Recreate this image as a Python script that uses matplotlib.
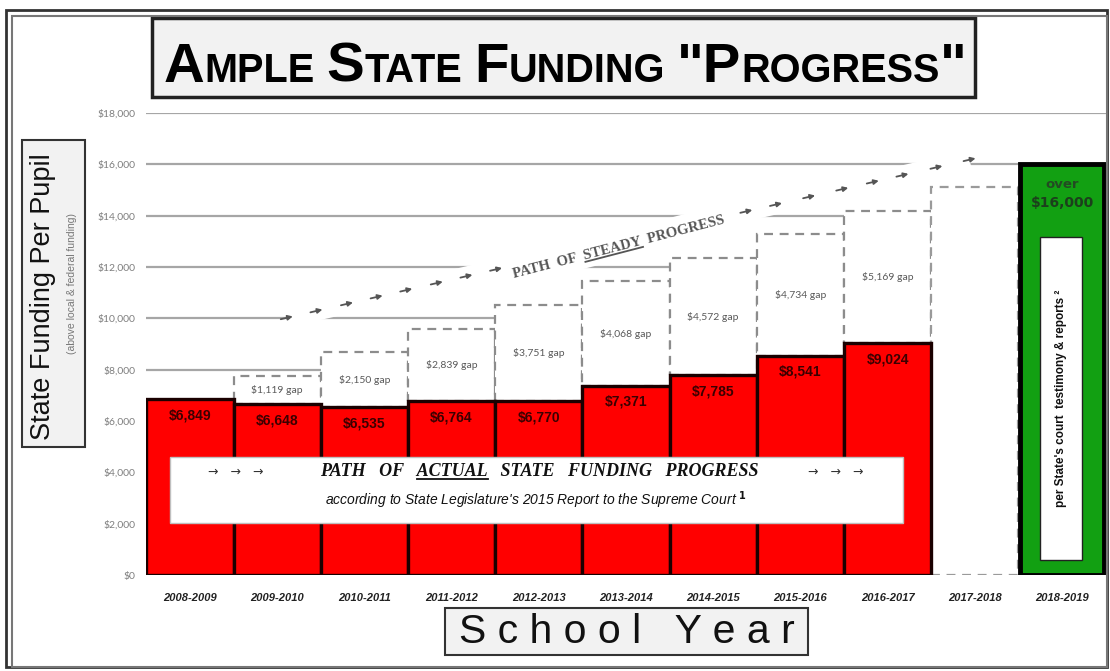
import numpy as np
import matplotlib
matplotlib.use('Agg')
import matplotlib.pyplot as plt
from matplotlib.patches import Rectangle

# data
years = ['2008-2009', '2009-2010', '2010-2011', '2011-2012', '2012-2013', '2013-2014',
         '2014-2015', '2015-2016', '2016-2017', '2017-2018', '2018-2019']
actual = [6849, 6648, 6535, 6764, 6770, 7371, 7785, 8541, 9024]
gaps = [1119, 2150, 2839, 3751, 4068, 4572, 4734, 5169]   # for 2009-10 .. 2016-17
target_1718 = 15111
court_level = 16029   # "over $16,000"

# steady-progress path (start / end of the arrow line)
steady_x = [1.11, 8.94]
steady_y = [10020, 16180]

NARROW = ['Liberation Sans Narrow', 'Liberation Sans', 'DejaVu Sans']

fig = plt.figure(figsize=(11.1, 6.71), dpi=100)
ax = fig.add_axes([146.4 / 1110, 96 / 671, 959.2 / 1110, 462 / 671])
ax.set_xlim(-0.5, 10.5)
ax.set_ylim(0, 18000)
for s in ax.spines.values():
    s.set_visible(False)
ax.set_yticks(np.arange(0, 18001, 2000))
ax.yaxis.set_major_formatter('${x:,.0f}')
ax.tick_params(axis='y', length=0, pad=8, labelsize=7.5, labelcolor='#7f7f7f')
for lab in ax.get_yticklabels():
    lab.set_family(['Lato', 'DejaVu Sans'])
ax.yaxis.grid(True, color='#a6a6a6', lw=1.6)
ax.set_axisbelow(True)

ax.set_xticks(range(len(years)))
ax.set_xticklabels(years, fontsize=8, fontweight='bold', fontstyle='italic',
                   color='#222222', family=NARROW)
ax.tick_params(axis='x', length=0, pad=13)

# white band under the steady path arrows (hides gridlines like the original)
ax.plot(steady_x, steady_y, color='white', lw=14, solid_capstyle='butt', zorder=1.5)

# gap boxes (dashed)
idx_gap = np.arange(1, 9)
ax.bar(idx_gap, gaps, bottom=actual[1:], width=1, facecolor='white', edgecolor='#8c8c8c',
       ls=(0, (4, 3)), lw=1.6, zorder=2)
ax.bar(9, target_1718, width=1, facecolor='white', edgecolor='#9a9a9a',
       ls=(0, (4, 3)), lw=1.6, zorder=2)
for i, g in zip(idx_gap, gaps):
    ax.text(i, actual[i] + g / 2, f'${g:,} gap', ha='center', va='center', fontsize=7.5,
            color='#595959', family=['Lato', 'DejaVu Sans'], zorder=3)

# actual funding bars
ax.bar(range(len(actual)), actual, width=1, color='#ff0000', edgecolor='#1a0000', lw=2.4, zorder=3)
for i, v in enumerate(actual):
    ax.text(i, v - 620, f'${v:,}', ha='center', va='center', fontsize=10, fontweight='bold',
            color='#3a0000', family=NARROW, zorder=4)

# court level bar
ax.bar(10, court_level, width=0.97, color='#12a012', edgecolor='black', lw=3.5, zorder=3)
ax.text(10, 15200, 'over', ha='center', va='center', fontsize=9.5, fontweight='bold',
        color='#234a23', zorder=4)
ax.text(10, 14480, '$16,000', ha='center', va='center', fontsize=10, fontweight='bold',
        color='#1c3f1c', zorder=4)
ax.add_patch(Rectangle((9.75, 585), 0.48, 12590, facecolor='white', edgecolor='#222222',
                       lw=1, zorder=4))
ax.text(9.99, 6880, "per State's court  testimony & reports \u00b2", rotation=90, ha='center',
        va='center', fontsize=8.5, fontweight='bold', color='#111111', family=NARROW, zorder=5)

# actual path box
ax.add_patch(Rectangle((-0.23, 2030), 8.41, 2570, facecolor='white', edgecolor='#bfbfbf',
                       lw=1, zorder=4))

renderer = fig.canvas.get_renderer()


def width_of(s, **kw):
    t = fig.text(0, 0, s, **kw)
    w = t.get_window_extent(renderer).width
    t.remove()
    return w


serif_kw = dict(fontsize=13, fontweight='bold', fontstyle='italic',
                family=['Liberation Serif', 'DejaVu Serif'])
line1 = 'PATH   OF   ACTUAL   STATE   FUNDING   PROGRESS'
ax.text(4.0, 3850, line1, ha='center', va='baseline', color='#111111', zorder=5, **serif_kw)
ax.text(0.52, 3850, '\u2192   \u2192   \u2192', ha='center', va='baseline', fontsize=9,
        color='#333333', zorder=5)
ax.text(7.4, 3850, '\u2192   \u2192   \u2192', ha='center', va='baseline', fontsize=9,
        color='#333333', zorder=5)
# underline ACTUAL
wf = width_of(line1, **serif_kw)
wp = width_of('PATH   OF   ', **serif_kw)
ww = width_of('ACTUAL', **serif_kw)
cx, cy = ax.transData.transform((4.0, 3850))
x0 = cx - wf / 2 + wp
inv = ax.transData.inverted()
p0 = inv.transform((x0, cy - 3))
p1 = inv.transform((x0 + ww, cy - 3))
ax.plot([p0[0], p1[0]], [p0[1], p1[1]], color='#111111', lw=1.3, zorder=5)

ax.text(3.97, 2720, "according to State Legislature's 2015 Report to the Supreme Court $^{\\mathbf{1}}$",
        ha='center', va='baseline', fontsize=10, fontstyle='italic', color='#111111',
        family=NARROW, zorder=5)

# steady progress arrows and text
ang = np.degrees(np.arctan2(*(np.diff(ax.transData.transform(list(zip(steady_x, steady_y))),
                                      axis=0)[0][::-1])))
arrow_pos = [1.11, 1.45, 1.80, 2.14, 2.48, 2.83, 3.17, 3.51,
             6.38, 6.72, 7.10, 7.48, 7.83, 8.17, 8.56, 8.94]
slope = (steady_y[1] - steady_y[0]) / (steady_x[1] - steady_x[0])
for a in arrow_pos:
    y = steady_y[0] + slope * (a - steady_x[0])
    ax.annotate('', xy=(a + 0.1, y + slope * 0.1), xytext=(a - 0.1, y - slope * 0.1),
                arrowprops=dict(arrowstyle='-|>', color='#555555', lw=1.3, mutation_scale=7),
                zorder=3)

steady_kw = dict(fontsize=10.5, fontweight='bold', family=['Liberation Serif', 'DejaVu Serif'])
steady = 'PATH  OF  STEADY  PROGRESS'
sx, sy = 4.93, 12650
ax.text(sx, sy, steady, rotation=ang + 1.5, rotation_mode='anchor', ha='center', va='baseline',
        color='#555555', zorder=3, **steady_kw)
# white band behind the steady text
wf = width_of(steady, **steady_kw)
wp = width_of('PATH  OF  ', **steady_kw)
ww = width_of('STEADY', **steady_kw)
cx, cy = ax.transData.transform((sx, sy))
ra = np.radians(ang + 1.5)
u = np.array([np.cos(ra), np.sin(ra)])
n = np.array([np.sin(ra), -np.cos(ra)])
c = np.array([cx, cy])
b0 = inv.transform(c - u * (wf / 2 + 6) - n * 5)
b1 = inv.transform(c + u * (wf / 2 + 6) - n * 5)
ax.plot([b0[0], b1[0]], [b0[1], b1[1]], color='white', lw=20, solid_capstyle='butt', zorder=1.6)
s0 = inv.transform(c + u * (-wf / 2 + wp) + n * 2.5)
s1 = inv.transform(c + u * (-wf / 2 + wp + ww) + n * 2.5)
ax.plot([s0[0], s1[0]], [s0[1], s1[1]], color='#555555', lw=1.3, zorder=3)

# y label box
fig.patches.append(Rectangle((22 / 1110, 1 - 447 / 671), 63 / 1110, 307 / 671,
                             transform=fig.transFigure, facecolor='#f2f2f2',
                             edgecolor='#333333', lw=1.5))
fig.text(43 / 1110, 1 - 297 / 671, 'State Funding Per Pupil', rotation=90, ha='center',
         va='center', fontsize=19.5, color='#111111', family=NARROW)
fig.text(72 / 1110, 1 - 283 / 671, '(above local & federal funding)', rotation=90, ha='center',
         va='center', fontsize=7.5, color='#777777', family=NARROW)

# x label box
fig.patches.append(Rectangle((445 / 1110, 1 - 655 / 671), 363 / 1110, 47 / 671,
                             transform=fig.transFigure, facecolor='#f2f2f2',
                             edgecolor='#333333', lw=1.5))
fig.text(627 / 1110, 1 - 632 / 671, 'S c h o o l   Y e a r', ha='center', va='center',
         fontsize=29.5, color='#111111', family=NARROW)

# title box with small caps
fig.patches.append(Rectangle((152 / 1110, 1 - 97 / 671), 823 / 1110, 79 / 671,
                             transform=fig.transFigure, facecolor='#f2f2f2',
                             edgecolor='#222222', lw=2.5))
pieces = [('A', 1), ('MPLE', 0), (' ', 0), ('S', 1), ('TATE', 0), (' ', 0),
          ('F', 1), ('UNDING', 0), (' ', 0), ('"P', 1), ('ROGRESS', 0), ('"', 1)]
tkw = dict(fontweight='bold', family=NARROW, color='black')
big, small = 44, 31


def title_widths(big, small):
    out = []
    for s, b in pieces:
        out.append(12 if s == ' ' else width_of(s, fontsize=big if b else small, **tkw))
    return out


widths = title_widths(big, small)
k = 800 / sum(widths)
big, small = big * k, small * k
widths = title_widths(big, small)
x = 565 - sum(widths) / 2
for (s, b), w in zip(pieces, widths):
    if s != ' ':
        fig.text(x / 1110, 1 - 82 / 671, s, fontsize=big if b else small, ha='left',
                 va='baseline', **tkw)
    x += w

# outer frame
fig.patches.append(Rectangle((6 / 1110, 4 / 671), 1101 / 1110, 657 / 671,
                             transform=fig.transFigure, fill=False, edgecolor='#333333', lw=2))
fig.patches.append(Rectangle((12 / 1110, 4 / 671), 1095 / 1110, 651 / 671,
                             transform=fig.transFigure, fill=False, edgecolor='#777777', lw=1.5))

fig.savefig('out.png', dpi=100)
